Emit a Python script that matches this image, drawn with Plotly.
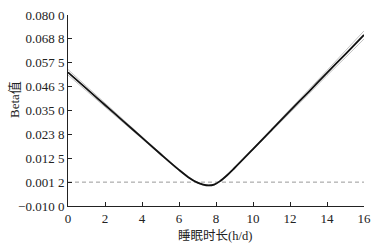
import plotly.graph_objects as go

sleep_h = [0, 1, 2, 3, 4, 5, 6, 6.5, 7.0, 7.3, 7.6, 7.9, 8.2, 8.6, 9, 10, 11, 12, 13, 14, 15, 16]
beta = [0.0530, 0.0453, 0.0376, 0.0299, 0.0222, 0.0145, 0.0070, 0.0036, 0.0010, 0.0001, -0.0003,
        0.0001, 0.0016, 0.0045, 0.0079, 0.0168, 0.0258, 0.0348, 0.0437, 0.0527, 0.0616, 0.0706]
upper = [0.0543, 0.0464, 0.0385, 0.0306, 0.0227, 0.0149, 0.0073, 0.0039, 0.0012, 0.0003, -0.0001,
         0.0003, 0.0018, 0.0048, 0.0082, 0.0172, 0.0263, 0.0356, 0.0447, 0.0539, 0.0632, 0.0725]
lower = [0.0517, 0.0442, 0.0367, 0.0292, 0.0217, 0.0141, 0.0067, 0.0033, 0.0008, -0.0001, -0.0005,
         -0.0001, 0.0014, 0.0042, 0.0076, 0.0164, 0.0253, 0.0340, 0.0427, 0.0515, 0.0600, 0.0687]
ref_value = 0.00125
x_range = [0, 16]

y_ticks = [-0.01, 0.00125, 0.0125, 0.02375, 0.035, 0.04625, 0.0575, 0.06875, 0.08]
y_labels = ["\u22120.010 0", "0.001 2", "0.012 5", "0.023 8", "0.035 0", "0.046 3", "0.057 5", "0.068 8", "0.080 0"]
x_ticks = [0, 2, 4, 6, 8, 10, 12, 14, 16]
x_title = "睡眠时长(h/d)"
y_title = "Beta值"

font_fam = "Liberation Serif, Noto Sans CJK SC, serif"

fig = go.Figure()
fig.add_trace(go.Scatter(x=x_range, y=[ref_value, ref_value], mode="lines",
                         line=dict(color="#999999", width=1, dash="4px,3px"), showlegend=False))
fig.add_trace(go.Scatter(x=sleep_h, y=upper, mode="lines", line=dict(color="#b4b4b4", width=0.8, shape="spline"), showlegend=False))
fig.add_trace(go.Scatter(x=sleep_h, y=lower, mode="lines", line=dict(color="#b4b4b4", width=0.8, shape="spline"), showlegend=False))
fig.add_trace(go.Scatter(x=sleep_h, y=beta, mode="lines", line=dict(color="#111111", width=1.8, shape="spline"), showlegend=False))

fig.update_layout(
    width=376, height=246,
    margin=dict(l=68, r=12, t=15, b=40),
    paper_bgcolor="white", plot_bgcolor="white",
    font=dict(family=font_fam, size=13, color="#222222"),
    xaxis=dict(range=[0, 16], tickvals=x_ticks, ticks="inside", ticklen=4, tickcolor="#222",
               showline=True, linecolor="#222", linewidth=1, showgrid=False, zeroline=False,
               automargin=False, tickfont=dict(size=13)),
    yaxis=dict(range=[-0.01, 0.08], tickvals=y_ticks, ticktext=y_labels, ticks="inside", ticklen=4,
               tickcolor="#222", showline=True, linecolor="#222", linewidth=1, showgrid=False, zeroline=False,
               automargin=False, tickfont=dict(size=13)),
    annotations=[
        dict(text=x_title, xref="paper", yref="paper", x=0.498, y=-0.157, xanchor="center", yanchor="middle",
             showarrow=False, font=dict(size=12.5)),
        dict(text=y_title, xref="paper", yref="paper", x=-0.179, y=0.555, xanchor="center", yanchor="middle",
             showarrow=False, textangle=-90, font=dict(size=13)),
    ],
)
fig.write_html("out.html", config={"displayModeBar": False},
               post_script="document.body.style.margin='0px';document.body.style.overflow='hidden';")
